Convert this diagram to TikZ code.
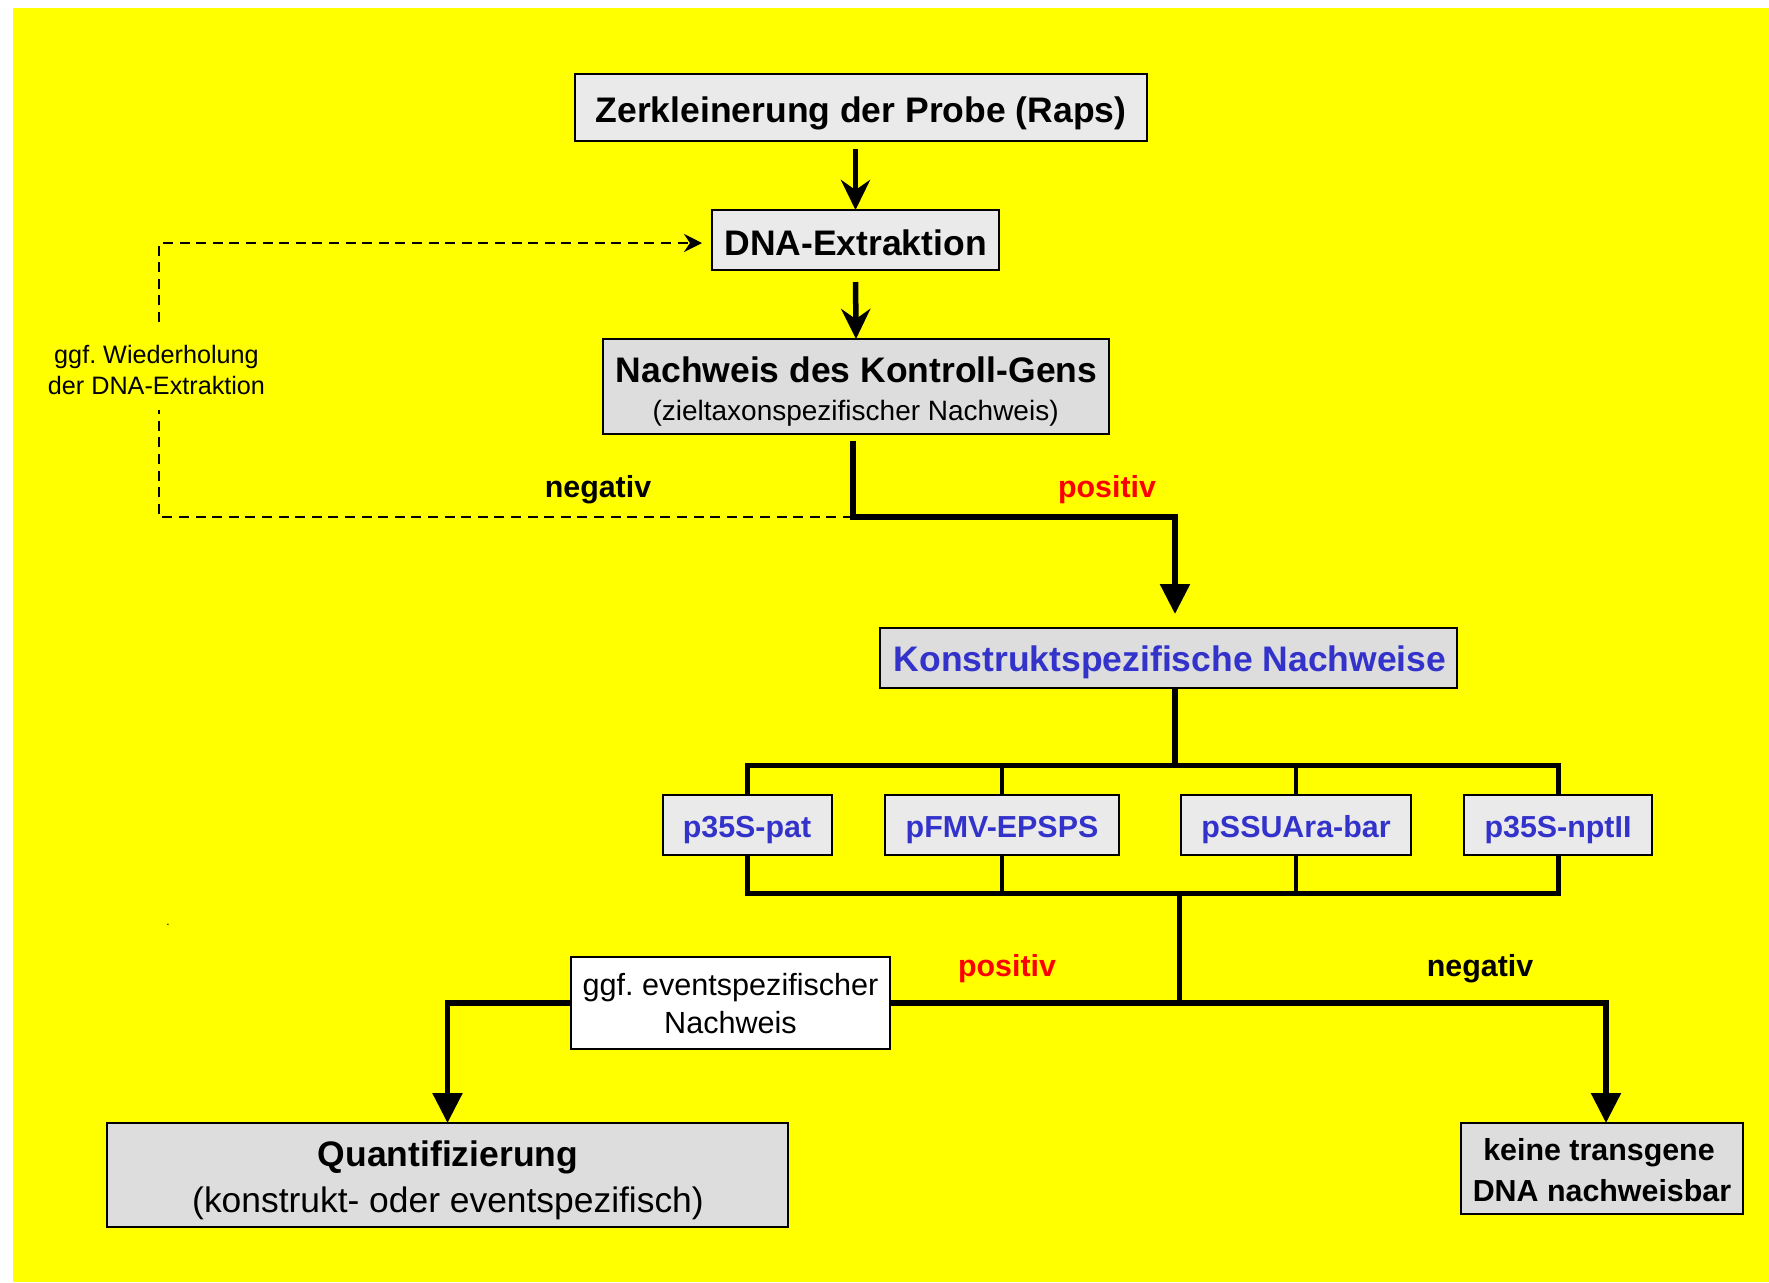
\documentclass[tikz,border=0pt]{standalone}
\usepackage{fontspec}
\setmainfont{Liberation Sans}
\usetikzlibrary{arrows.meta}
\definecolor{bgyellow}{RGB}{255,255,0}
\definecolor{boxlight}{RGB}{234,234,234}
\definecolor{boxgrey}{RGB}{221,221,221}
\definecolor{txtblue}{RGB}{51,51,204}
\definecolor{txtred}{RGB}{255,0,0}
\newcommand\myBig{\fontsize{17.75}{21}\selectfont\bfseries}
\newcommand\myBigReg{\fontsize{17.7}{21}\selectfont}
\newcommand\myMed{\fontsize{15.2}{18}\selectfont\bfseries}
\newcommand\myMedReg{\fontsize{15.3}{18}\selectfont}
\newcommand\mySub{\fontsize{14}{16}\selectfont}
\newcommand\mySmall{\fontsize{12.6}{15}\selectfont}
\frenchspacing
\begin{document}
\begin{tikzpicture}[x=0.5pt,y=-0.5pt,
  box/.style={draw=black, line width=1pt, inner sep=0pt, outer sep=0pt, anchor=center},
  lightbox/.style={box, fill=boxlight},
  greybox/.style={box, fill=boxgrey},
  whitebox/.style={box, fill=white},
  txt/.style={inner sep=0pt, outer sep=0pt, anchor=base, font=\frenchspacing},
  thk/.style={line width=2.75pt, draw=black},
  brline/.style={line width=2.5pt, draw=black, line join=miter},
  thn/.style={line width=2.25pt, draw=black},
  dsh/.style={line width=0.9pt, draw=black, dash pattern=on 5pt off 3.3pt},
  stealthtip/.style={-{Stealth[length=15pt, width=14.5pt, inset=5pt]}},
  tritip/.style={-{Triangle[length=15pt, width=14.5pt]}},
  dshtip/.style={-{Stealth[length=9pt, width=9pt, inset=3pt]}}
]
\useasboundingbox (0,0) rectangle (1769,1282);
\fill[white] (0,0) rectangle (1769,1282);
\fill[bgyellow] (13,8) rectangle (1769,1282);

% boxes
\node[lightbox, minimum width=286pt, minimum height=33.5pt] (b1) at (861,107.5) {};
\node[lightbox, minimum width=143.5pt, minimum height=30pt] (b2) at (855.5,240) {};
\node[greybox, minimum width=253pt, minimum height=47.5pt] (b3) at (856,386.5) {};
\node[greybox, minimum width=288.5pt, minimum height=30pt] (b4) at (1168.5,658) {};
\node[lightbox, line width=0.8pt, minimum width=84.5pt, minimum height=30pt] (s1) at (747.5,825) {};
\node[lightbox, line width=0.8pt, minimum width=117pt, minimum height=30pt] (s2) at (1002,825) {};
\node[lightbox, line width=0.8pt, minimum width=115pt, minimum height=30pt] (s3) at (1296,825) {};
\node[lightbox, line width=0.8pt, minimum width=94pt, minimum height=30pt] (s4) at (1558,825) {};
\node[greybox, minimum width=340.5pt, minimum height=52pt] (q) at (447.5,1175) {};
\node[greybox, minimum width=141pt, minimum height=45.5pt] (k) at (1602,1168.5) {};

% coordinates
\coordinate (j1) at (853,517);
\coordinate (j2) at (1175,517);
\coordinate (d1) at (159,517);
\coordinate (dlo) at (159,410);
\coordinate (dhi) at (159,322);
\coordinate (d2) at (159,243);
\coordinate (bt) at (0,765.5);
\coordinate (bb) at (0,893);
\coordinate (m) at (1179.5,893);
\coordinate (m2) at (1179.5,1003);
\coordinate (kin) at ([xshift=2pt]k.north);

% connectors
\draw[thk, stealthtip, shorten <=4pt] (b1.south -| b2.north) -- (b2.north);
\draw[thk, stealthtip, shorten <=6pt] (b2.south) -- (b3.north);
\draw[thk, tritip, shorten <=3.5pt, shorten >=7pt] (b3.south -| j1) -- (j1) -- (j2) -- (j2 |- b4.north);
\draw[dsh] (j1) -- (d1) -- (dlo);
\draw[dsh, dshtip, shorten >=5pt] (dhi) -- (d2) -- (b2.west |- d2);
\draw[thk] (b4.south -| j2) -- (j2 |- bt);
\draw[brline] (s1.north) -- (s1.north |- bt) -- (s4.north |- bt) -- (s4.north);
\draw[thn] (s2.north) -- (s2.north |- bt);
\draw[thn] (s3.north) -- (s3.north |- bt);
\draw[brline] (s1.south) -- (s1.south |- bb) -- (s4.south |- bb) -- (s4.south);
\draw[thn] (s2.south) -- (s2.south |- bb);
\draw[thn] (s3.south) -- (s3.south |- bb);
\draw[thk] (m) -- (m2);
\draw[thk, tritip] (m2) -- (m2 -| q.north) -- (q.north);
\draw[thk, tritip] (m2) -- (m2 -| kin) -- (kin);

% white box on top of the line
\node[whitebox, minimum width=159.5pt, minimum height=46pt] (w) at (730.5,1003) {};

% texts
\node[txt] (t1) at (861,122) {\myBig Zerkleinerung der Probe (Raps)};
\node[txt] (t2) at (855.6,255) {\myBig DNA-Extraktion};
\node[txt] (t3a) at (856.6,382) {\myBig Nachweis des Kontroll-Gens};
\node[txt] (t3b) at (855.6,420) {\mySub (zieltaxonspezifischer Nachweis)};
\node[txt, text=txtblue] (t4) at (1170,671) {\myBig Konstruktspezifische Nachweise};
\node[txt, text=txtblue] (ts1) at (747,837) {\myMed p35S-pat};
\node[txt, text=txtblue] (ts2) at (1002,837) {\myMed pFMV-EPSPS};
\node[txt, text=txtblue] (ts3) at (1296,837) {\myMed pSSUAra-bar};
\node[txt, text=txtblue] (ts4) at (1558,837) {\myMed p35S-nptII};
\node[txt] (wl1) at (156.5,363) {\mySmall ggf. Wiederholung};
\node[txt] (wl2) at (156.5,394) {\mySmall der DNA-Extraktion};
\node[txt] (neg1) at (598,497) {\myMed negativ};
\node[txt, text=txtred] (pos1) at (1107,497) {\myMed positiv};
\node[txt, text=txtred] (pos2) at (1007,976) {\myMed positiv};
\node[txt] (neg2) at (1480,976) {\myMed negativ};
\node[txt] (tw1) at (730.5,995) {\myMedReg ggf. eventspezifischer};
\node[txt] (tw2) at (730.5,1033) {\myMedReg Nachweis};
\node[txt] (tq1) at (448,1166) {\myBig Quantifizierung};
\node[txt] (tq2) at (448,1212) {\myBigReg (konstrukt- oder eventspezifisch)};
\node[txt] (tk1) at (1599,1160) {\myMed keine transgene};
\node[txt] (tk2) at (1602,1201) {\myMed DNA nachweisbar};
\node[txt] (dot) at (168,925) {\fontsize{6}{7}\selectfont .};
\end{tikzpicture}
\end{document}
